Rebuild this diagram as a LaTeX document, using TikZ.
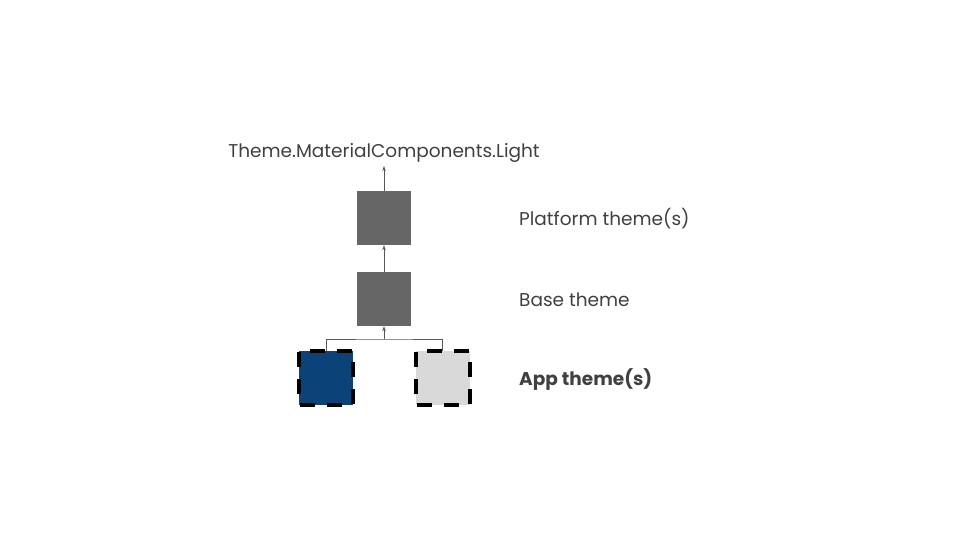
\documentclass[tikz,border=0pt]{standalone}
\usepackage{fontspec}
\setmainfont{Poppins}
\usetikzlibrary{arrows.meta}
\definecolor{boxgray}{HTML}{666666}
\definecolor{appblue}{HTML}{0B4278}
\definecolor{applight}{HTML}{D9D9D9}
\definecolor{txt}{HTML}{404040}
\definecolor{ln}{HTML}{595959}
\begin{document}
\begin{tikzpicture}[x=1pt,y=-1pt,
  theme/.style={draw=none,fill=boxgray,minimum width=54pt,minimum height=54pt,inner sep=0pt},
  app/.style={draw=black,line width=4pt,dash pattern=on 15pt off 12pt,dash phase=-1pt,minimum width=54pt,minimum height=54pt,inner sep=0pt,outer sep=0pt},
  lbl/.style={text=txt,font=\fontsize{18.5}{20}\selectfont,inner sep=0pt},
  conn/.style={draw=ln,line width=0.8pt},
  arr/.style={conn,-{Stealth[length=5pt,width=3.5pt]}}]
\useasboundingbox (0,0) rectangle (960,540);
\node[lbl] (top) at (384,153) {Theme.MaterialComponents.Light};
\node[theme] (plat) at (384,218) {};
\node[theme] (base) at (384,299) {};
\node[app,fill=appblue] (a1) at (326,378) {};
\node[app,fill=applight] (a2) at (442.5,378) {};
\node[lbl,anchor=west] (lp) at (519,219) {Platform theme(s)};
\node[lbl,anchor=west] (lb) at (519,300) {Base theme};
\node[lbl,anchor=west,font=\fontsize{18.5}{20}\selectfont\bfseries] (la) at (519,380) {App theme(s)};
\coordinate (j) at (384,339);
\coordinate (ttop) at (384,166);
\draw[conn] (a1.north) |- (j) -| (a2.north);
\draw[arr] (j) -- (base.south);
\draw[arr] (base.north) -- (plat.south);
\draw[arr] (plat.north) -- (ttop);
\end{tikzpicture}
\end{document}
